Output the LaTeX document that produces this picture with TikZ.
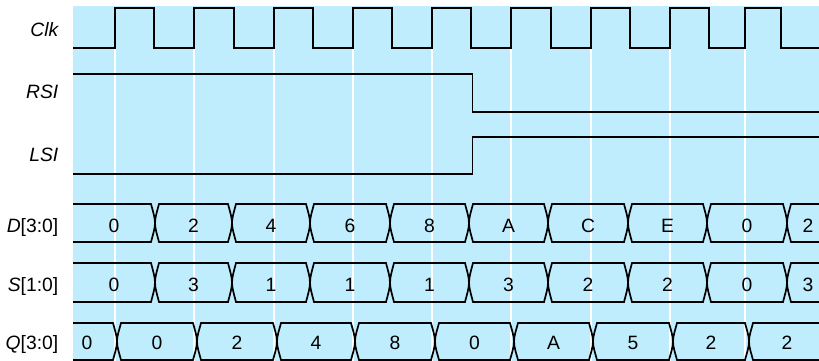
\documentclass[tikz,border=0pt]{standalone}
\usepackage{fontspec}
\setmainfont{Liberation Sans}
\definecolor{bgblue}{RGB}{192,237,253}
\begin{document}
\begin{tikzpicture}[x=1pt,y=-1pt,
  sig/.style={line width=1.7pt, line join=miter},
  lbl/.style={anchor=base east, inner sep=0pt, font=\fontsize{19.3}{21}\selectfont},
  val/.style={anchor=base, inner sep=0pt, font=\fontsize{19.3}{21}\selectfont},
  gridline/.style={white, line width=1.2pt}]
\useasboundingbox (0,0) rectangle (819,361);
\fill[bgblue] (73,6) rectangle (819,361);
% white guide lines at rising clock edges
\foreach \x in {115,194,274,353,432,511,591,670,745}
  \draw[gridline] (\x,49) -- (\x,361);
% clock
\draw[sig] (73,48) foreach \r/\f in {115/154,194/234,274/313,353/392,432/471,511/551,591/630,670/709,745/781}
  { -- (\r,48) -- (\r,8) -- (\f,8) -- (\f,48) } -- (819,48);
% RSI and LSI
\draw[sig] (73,74) -- (472.5,74) -- (472.5,112) -- (819,112);
\draw[sig] (73,174) -- (472.5,174) -- (472.5,137) -- (819,137);
% labels
\node[lbl] (lclk) at (58.5,36.5) {\itshape Clk};
\node[lbl] (lrsi) at (58.5,99) {\itshape RSI};
\node[lbl] (llsi) at (58.5,161.5) {\itshape LSI};
\node[lbl] (ld) at (58.5,232.5) {{\itshape D\/}[3:0]};
\node[lbl] (ls) at (58.5,291.3) {{\itshape S\/}[1:0]};
\node[lbl] (lq) at (58.5,349.3) {{\itshape Q\/}[3:0]};
% bus segment: #1 start, #2 end, #3 top, #4 mid, #5 bottom
\newcommand\bussegment[5]{%
  \draw[sig] (#1+4,#3) -- (#2-4,#3)
    .. controls (#2-2.5,#3+6) and (#2,#4-6) .. (#2,#4)
    .. controls (#2,#4+6) and (#2-2.5,#5-6) .. (#2-4,#5)
    -- (#1+4,#5)
    .. controls (#1+2.5,#5-6) and (#1,#4+6) .. (#1,#4)
    .. controls (#1,#4-6) and (#1+2.5,#3+6) .. cycle;}
\newcommand\busfirst[5]{%
  \draw[sig] (#1,#3) -- (#2-4,#3)
    .. controls (#2-2.5,#3+6) and (#2,#4-6) .. (#2,#4)
    .. controls (#2,#4+6) and (#2-2.5,#5-6) .. (#2-4,#5)
    -- (#1,#5);}
\newcommand\buslast[5]{%
  \draw[sig] (#2,#3) -- (#1+4,#3)
    .. controls (#1+2.5,#3+6) and (#1,#4-6) .. (#1,#4)
    .. controls (#1,#4+6) and (#1+2.5,#5-6) .. (#1+4,#5)
    -- (#2,#5);}
% D bus
\busfirst{73}{155}{204}{223}{242}
\node[val] (d1) at (114,232.5) {0};
\foreach \a/\b/\t [count=\i from 2] in {155/232/2,232/310/4,310/390/6,390/469/8,469/548/A,548/628/C,628/707/E,707/787/0} {
  \bussegment{\a}{\b}{204}{223}{242}
  \node[val] (d\i) at ({(\a+\b)/2},232.5) {\t};
}
\buslast{787}{822}{204}{223}{242}
\node[val] (d10) at (808,232.5) {2};
% S bus
\busfirst{73}{155}{263}{282.5}{302}
\node[val] (s1) at (114,291.3) {0};
\foreach \a/\b/\t [count=\i from 2] in {155/232/3,232/310/1,310/390/1,390/469/1,469/548/3,548/628/2,628/707/2,707/787/0} {
  \bussegment{\a}{\b}{263}{282.5}{302}
  \node[val] (s\i) at ({(\a+\b)/2},291.3) {\t};
}
\buslast{787}{822}{263}{282.5}{302}
\node[val] (s10) at (808,291.3) {3};
% Q bus
\busfirst{73}{117}{323}{341.5}{360}
\node[val] (q1) at (87,349.3) {0};
\foreach \a/\b/\t [count=\i from 2] in {117/197/0,197/277/2,277/355/4,355/435/8,435/514/0,514/593/A,593/673/5,673/749/2} {
  \bussegment{\a}{\b}{323}{341.5}{360}
  \node[val] (q\i) at ({(\a+\b)/2},349.3) {\t};
}
\buslast{749}{822}{323}{341.5}{360}
\node[val] (q10) at (787,349.3) {2};
\end{tikzpicture}
\end{document}
